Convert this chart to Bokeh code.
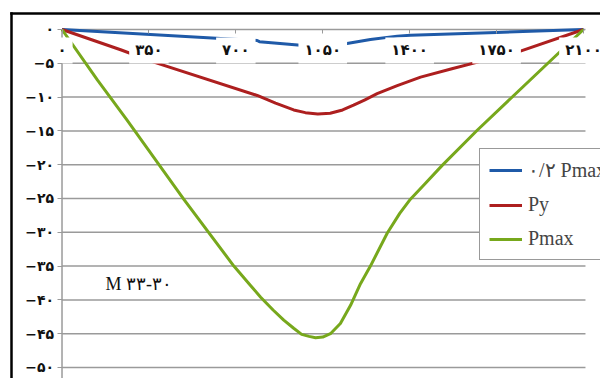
from bokeh.plotting import figure
from bokeh.models import (Range1d, FixedTicker, LinearAxis, Label, Legend, LegendItem,
                          ColumnDataSource)
from bokeh.embed import file_html
from bokeh.resources import INLINE
from bokeh.core.properties import value

# Deflection curves: positions along the member and deflection values
pmax_02_x = [0, 356, 786, 795, 973, 1050, 1142, 1242, 1350, 1403, 1750, 2100]
pmax_02_y = [0, -0.74, -1.63, -1.8, -2.37, -2.55, -2.1, -1.48, -0.98, -0.84, -0.44, 0]

py_x = [0, 236, 370, 786, 860, 933, 980, 1030, 1080, 1130, 1174, 1220, 1269,
        1350, 1444, 1570, 1697, 1846, 2100]
py_y = [0, -3.0, -4.83, -9.76, -10.9, -11.9, -12.3, -12.5, -12.4, -11.9, -11.2, -10.4,
        -9.5, -8.3, -7.05, -5.8, -4.6, -3.2, 0]

pmax_x = [0, 143, 262, 490, 692, 760, 800, 850, 893, 933, 965, 995, 1021, 1050, 1081,
          1121, 1162, 1202, 1242, 1310, 1360, 1403, 1460, 1531, 1672, 2100]
pmax_y = [0, -7.5, -13.4, -25.1, -35.0, -37.9, -39.6, -41.5, -43.0, -44.2, -45.1, -45.4,
          -45.6, -45.5, -45.0, -43.5, -40.8, -37.6, -35.0, -30.1, -27.2, -25.1, -22.9,
          -20.1, -14.9, 0]

series_names = ["۰/۲ Pmax", "Py", "Pmax"]
series_x = [pmax_02_x, py_x, pmax_x]
series_y = [pmax_02_y, py_y, pmax_y]
series_colors = ["#1f5aa8", "#ad1f1f", "#77a81c"]

x_ticks = [0, 350, 700, 1050, 1400, 1750, 2100]
x_tick_labels = ["۰", "۳۵۰", "۷۰۰", "۱۰۵۰", "۱۴۰۰", "۱۷۵۰", "۲۱۰۰"]
y_ticks = [0, -5, -10, -15, -20, -25, -30, -35, -40, -45, -50]
y_tick_labels = ["۰", "−۵", "−۱۰", "−۱۵", "−۲۰", "−۲۵", "−۳۰", "−۳۵", "−۴۰", "−۴۵", "−۵۰"]

caption = "M ۳۳-۳۰"

X0, X1 = -247.7, 2168.5
Y0, Y1 = -51.63, 4.29
GRID_END = 2108
GRID_COLOR = "#9a9a9a"
# chart border corner (top-left), in data units
BORDER_X, BORDER_Y = -205.4, 2.44

p = figure(width=600, height=378, x_range=Range1d(X0, X1), y_range=Range1d(Y0, Y1),
           output_backend="svg", toolbar_location=None, min_border=0,
           x_axis_type=None, y_axis_type=None)
p.outline_line_color = None
p.background_fill_color = "white"
p.border_fill_color = "white"

# horizontal gridlines and the vertical value-axis rule
p.segment(x0=[0] * len(y_ticks), y0=y_ticks, x1=[GRID_END] * len(y_ticks), y1=y_ticks,
          line_color=GRID_COLOR, line_width=1.5)
p.segment(x0=[0], y0=[0], x1=[0], y1=[Y0], line_color=GRID_COLOR, line_width=1.5)

yaxis = LinearAxis(fixed_location=0, ticker=FixedTicker(ticks=y_ticks),
                   major_label_overrides=dict(zip(y_ticks, y_tick_labels)),
                   axis_line_color=None,
                   major_tick_out=5, major_tick_in=0, major_tick_line_color=GRID_COLOR,
                   minor_tick_out=0, minor_tick_in=0, major_label_standoff=3,
                   major_label_text_font="DejaVu Sans", major_label_text_font_size="14px",
                   major_label_text_font_style="bold", major_label_text_color="#111111")
p.add_layout(yaxis, "left")

xaxis = LinearAxis(fixed_location=0, ticker=FixedTicker(ticks=x_ticks),
                   major_label_overrides={t: "" for t in x_ticks},
                   axis_line_color=None,
                   major_tick_out=4, major_tick_in=0, major_tick_line_color=GRID_COLOR,
                   minor_tick_out=0, minor_tick_in=0)
p.add_layout(xaxis, "below")

# outer chart border: tick-less rules along the top and left edges
border_common = dict(ticker=FixedTicker(ticks=[]), axis_line_color="black",
                     axis_line_width=2.5, axis_line_cap="square",
                     major_tick_out=0, major_tick_in=0, minor_tick_out=0, minor_tick_in=0,
                     major_label_text_font_size="0px")
p.add_layout(LinearAxis(fixed_location=BORDER_X, bounds=(Y0, BORDER_Y), **border_common),
             "left")
p.add_layout(LinearAxis(fixed_location=BORDER_Y, bounds=(BORDER_X, X1), **border_common),
             "above")

renderers = []
for name, xs, ys, color in zip(series_names, series_x, series_y, series_colors):
    r = p.line(xs, ys, line_color=color, line_width=3, line_join="round")
    renderers.append((name, r))

# x tick labels sit under the zero line on white boxes
tick_src = ColumnDataSource(dict(x=x_ticks, y=[0] * len(x_ticks), t=x_tick_labels))
p.text(x="x", y="y", text="t", source=tick_src, y_offset=21,
       text_align="center", text_baseline="middle",
       text_font=value("DejaVu Sans"), text_font_size="15px", text_font_style="bold",
       text_color="#111111", background_fill_color="white", padding=(6, 4))

p.add_layout(Label(x=175, y=-37.6, text=caption, text_font="Liberation Serif",
                   text_font_size="18px", text_baseline="middle", text_color="#111111"))

legend = Legend(items=[LegendItem(label=n, renderers=[r]) for n, r in renderers],
                location=(479, 118), label_text_font="Liberation Serif",
                label_text_font_size="20px", glyph_width=33, glyph_height=20,
                label_height=20, spacing=11, padding=9, margin=0, label_standoff=6,
                border_line_color="#333333", border_line_width=1,
                background_fill_color="white", background_fill_alpha=1)
p.add_layout(legend)

open("out.html", "w").write(file_html(p, INLINE))
